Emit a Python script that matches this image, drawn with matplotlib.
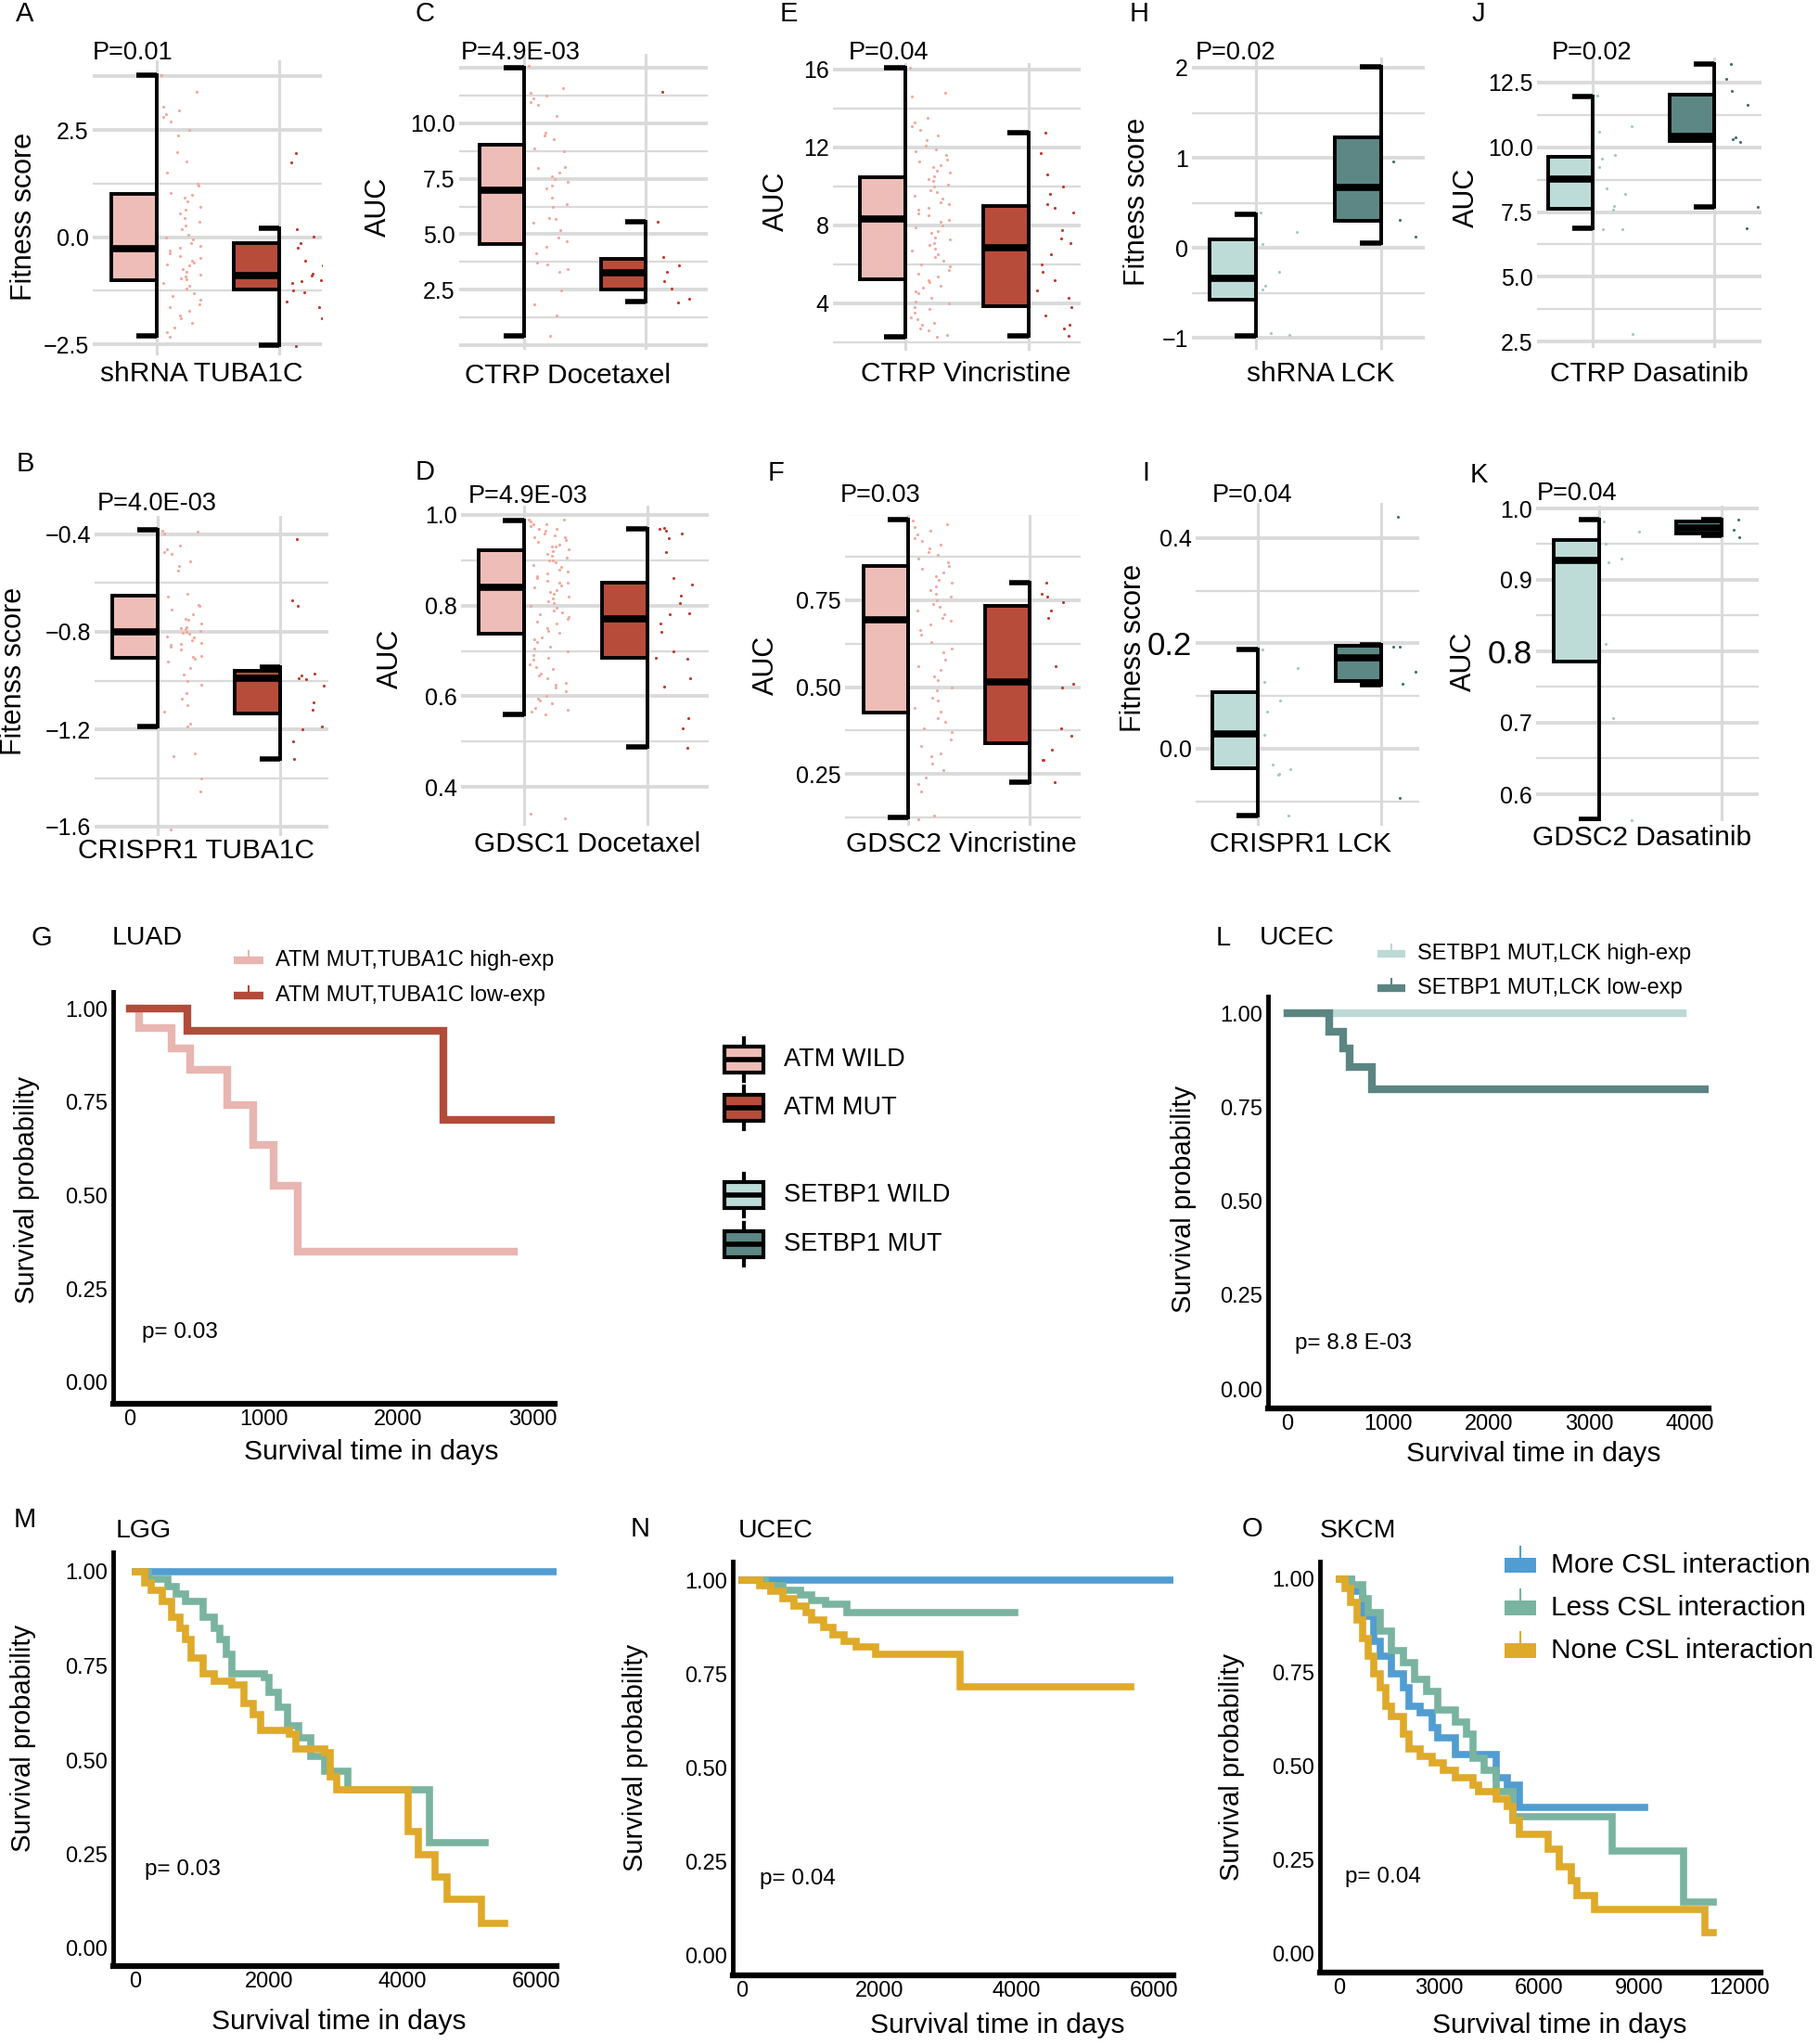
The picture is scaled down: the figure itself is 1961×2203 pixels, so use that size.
import numpy as np
import matplotlib
matplotlib.use('Agg')
import matplotlib.pyplot as plt
from matplotlib.patches import Rectangle

W, H = 1961, 2203
plt.rcParams['font.family'] = ['Liberation Sans', 'DejaVu Sans']

pink, red = '#efbdb8', '#b84c3b'
lteal, dteal = '#bedcd7', '#5d8784'
pink_pt, red_pt = '#f2a89c', '#c0392b'
lteal_pt, dteal_pt = '#9fcac3', '#3f6f6b'
grid_c = '#dadada'
blue, green, yellow = '#519dd1', '#79b4a0', '#dfaa2a'

# ---------------- box panel data: (lo, q1, med, q3, hi) per group
box_A = [(-2.31, -1.0, -0.26, 1.0, 3.78), (-2.53, -1.22, -0.9, -0.15, 0.2)]
box_C = [(0.42, 4.54, 7.0, 9.04, 12.5), (1.96, 2.5, 3.25, 3.9, 5.54)]
box_E = [(2.29, 5.24, 8.33, 10.48, 16.1), (2.33, 3.86, 6.86, 9.0, 12.76)]
box_H = [(-0.98, -0.58, -0.34, 0.09, 0.37), (0.05, 0.30, 0.67, 1.23, 2.01)]
box_J = [(6.86, 7.64, 8.79, 9.64, 11.96), (7.71, 10.25, 10.43, 12.04, 13.2)]
box_B = [(-1.19, -0.907, -0.80, -0.65, -0.38), (-1.32, -1.135, -0.99, -0.96, -0.945)]
box_D = [(0.56, 0.737, 0.84, 0.922, 0.988), (0.488, 0.684, 0.771, 0.851, 0.969)]
box_F = [(0.123, 0.427, 0.694, 0.849, 0.982), (0.226, 0.339, 0.516, 0.734, 0.80)]
box_I = [(-0.127, -0.037, 0.028, 0.108, 0.188), (0.122, 0.129, 0.172, 0.195, 0.197)]
box_K = [(0.565, 0.786, 0.927, 0.956, 0.984), (0.962, 0.965, 0.973, 0.982, 0.985)]

# jittered points (y values)
pts_A1 = [3.78, 3.39, 3.05, 2.95, 2.86, 2.8, 2.7, 2.5, 2.36, 1.97, 1.77, 1.51, 1.25, 1.2, 1.02, 0.99,
          0.92, 0.84, 0.71, 0.63, 0.56, 0.45, 0.35, 0.27, 0.18, 0.06, 0.0, -0.06, -0.13, -0.2, -0.24,
          -0.31, -0.38, -0.44, -0.49, -0.56, -0.6, -0.63, -0.67, -0.74, -0.81, -0.87, -0.92, -0.96,
          -0.99, -1.07, -1.14, -1.21, -1.31, -1.38, -1.46, -1.57, -1.64, -1.72, -1.82, -1.9, -2.0,
          -2.11, -2.22, -2.33]
pts_A2 = [1.96, 1.74, 0.19, 0.01, -0.13, -0.24, -0.56, -0.67, -0.85, -0.89, -1.0, -1.03, -1.07,
          -1.25, -1.28, -1.5, -1.64, -1.9, -2.55]
pts_C1 = [12.58, 11.61, 11.4, 11.26, 11.12, 10.98, 10.84, 10.35, 9.58, 9.44, 9.3, 8.88, 8.74, 8.04,
          7.97, 7.77, 7.63, 7.49, 7.35, 7.21, 7.07, 6.65, 6.37, 6.23, 5.74, 5.67, 5.53, 5.18, 4.83,
          4.69, 4.41, 4.13, 3.72, 3.65, 3.44, 3.3, 2.46, 1.83, 1.34, 0.4]
pts_C2 = [11.44, 5.56, 3.95, 3.6, 3.3, 2.88, 2.53, 2.1, 1.93]
pts_E1 = [16.1, 14.8, 14.6, 13.5, 13.3, 13.1, 12.9, 12.6, 12.4, 12.1, 11.9, 11.8, 11.6, 11.4, 11.3,
          11.1, 11.0, 10.8, 10.7, 10.5, 10.4, 10.3, 10.1, 10.0, 9.8, 9.7, 9.5, 9.4, 9.2, 9.1, 8.9,
          8.8, 8.6, 8.5, 8.3, 8.2, 8.0, 7.9, 7.7, 7.6, 7.4, 7.3, 7.1, 7.0, 6.8, 6.7, 6.5, 6.4, 6.2,
          6.0, 5.9, 5.7, 5.5, 5.4, 5.2, 5.1, 4.9, 4.8, 4.6, 4.5, 4.3, 4.1, 4.0, 3.8, 3.7, 3.5, 3.3,
          3.2, 3.0, 2.9, 2.7, 2.6, 2.4, 2.3]
pts_E2 = [12.75, 11.7, 10.6, 10.0, 9.6, 9.1, 8.9, 8.65, 7.75, 7.35, 7.1, 6.5, 6.0, 5.6, 5.2, 4.65,
          4.3, 3.8, 3.4, 2.9, 2.7, 2.35]
pts_H1 = [0.39, 0.18, 0.04, -0.27, -0.42, -0.46, -0.95, -0.97]
pts_H2 = [2.13, 0.96, 0.31, 0.12]
pts_J1 = [12.0, 10.8, 10.6, 9.7, 9.55, 9.25, 8.4, 8.2, 7.75, 7.6, 6.85, 6.83, 2.8]
pts_J2 = [13.2, 12.66, 12.18, 11.64, 10.38, 10.32, 10.2, 7.7, 6.88]
pts_B1 = [-0.383, -0.39, -0.396, -0.447, -0.46, -0.472, -0.479, -0.51, -0.53, -0.548, -0.644,
          -0.656, -0.69, -0.695, -0.707, -0.726, -0.745, -0.75, -0.764, -0.78, -0.783, -0.79, -0.796,
          -0.8, -0.803, -0.809, -0.82, -0.822, -0.834, -0.847, -0.85, -0.853, -0.86, -0.872, -0.898,
          -0.904, -0.91, -0.923, -0.949, -0.974, -1.0, -1.019, -1.05, -1.076, -1.1, -1.127, -1.177,
          -1.19, -1.30, -1.31, -1.4, -1.457, -1.61]
pts_B2 = [-0.42, -0.67, -0.695, -0.97, -0.98, -0.99, -0.995, -1.02, -1.09, -1.12, -1.19, -1.2,
          -1.25, -1.32]
pts_D1 = [0.99, 0.99, 0.985, 0.98, 0.98, 0.975, 0.97, 0.97, 0.965, 0.96, 0.955, 0.95, 0.95, 0.945,
          0.94, 0.935, 0.93, 0.93, 0.925, 0.92, 0.915, 0.91, 0.905, 0.9, 0.9, 0.895, 0.89, 0.885,
          0.88, 0.875, 0.87, 0.865, 0.86, 0.855, 0.85, 0.85, 0.845, 0.84, 0.835, 0.83, 0.825, 0.82,
          0.815, 0.81, 0.805, 0.8, 0.795, 0.79, 0.785, 0.78, 0.775, 0.77, 0.765, 0.76, 0.75, 0.745,
          0.74, 0.73, 0.725, 0.72, 0.71, 0.705, 0.7, 0.69, 0.685, 0.68, 0.67, 0.665, 0.66, 0.65,
          0.645, 0.64, 0.63, 0.625, 0.62, 0.61, 0.6, 0.595, 0.59, 0.585, 0.575, 0.57, 0.565, 0.56,
          0.34, 0.33]
pts_D2 = [0.971, 0.969, 0.965, 0.959, 0.949, 0.918, 0.86, 0.847, 0.821, 0.806, 0.782, 0.78, 0.761,
          0.741, 0.7, 0.684, 0.683, 0.639, 0.622, 0.552, 0.53, 0.487]
pts_F1 = [0.98, 0.97, 0.96, 0.95, 0.94, 0.93, 0.92, 0.91, 0.9, 0.89, 0.88, 0.87, 0.86, 0.85, 0.84,
          0.83, 0.82, 0.81, 0.8, 0.79, 0.78, 0.77, 0.76, 0.75, 0.74, 0.73, 0.72, 0.71, 0.7, 0.69,
          0.68, 0.665, 0.65, 0.63, 0.61, 0.6, 0.58, 0.56, 0.55, 0.53, 0.52, 0.5, 0.49, 0.47, 0.46,
          0.44, 0.43, 0.41, 0.4, 0.38, 0.37, 0.35, 0.33, 0.31, 0.3, 0.28, 0.26, 0.24, 0.22, 0.2,
          0.13, 0.12]
pts_F2 = [0.80, 0.77, 0.76, 0.745, 0.72, 0.70, 0.56, 0.51, 0.50, 0.38, 0.36, 0.32, 0.29, 0.29, 0.225]
pts_I1 = [0.188, 0.153, 0.126, 0.091, 0.071, 0.026, -0.03, -0.038, -0.047, -0.05, -0.126]
pts_I2 = [0.44, 0.194, 0.194, 0.147, 0.124, -0.094]
pts_K1 = [0.982, 0.967, 0.95, 0.93, 0.925, 0.81, 0.707, 0.563]
pts_K2 = [0.985, 0.97, 0.96]

# ---------------- survival data (time of step, survival after step)
g_high_t = [0, 66, 309, 450, 728, 918, 1068, 1249]
g_high_s = [1.0, 0.948, 0.894, 0.835, 0.742, 0.634, 0.526, 0.349]
g_low_t = [0, 432, 2338]
g_low_s = [1.0, 0.940, 0.702]
l_high_t = [0]
l_high_s = [1.0]
l_low_t = [0, 412, 554, 621, 836]
l_low_s = [1.0, 0.951, 0.907, 0.858, 0.797]
m_more_t = [0]
m_more_s = [1.0]
m_less_t = [0, 190, 480, 610, 750, 1010, 1180, 1270, 1360, 1440, 1930, 2000, 2140, 2280, 2450,
            2630, 2830, 3180, 4400]
m_less_s = [1.0, 0.98, 0.96, 0.94, 0.92, 0.88, 0.85, 0.82, 0.78, 0.73, 0.72, 0.68, 0.64, 0.59,
            0.56, 0.51, 0.47, 0.42, 0.28]
m_none_t = [0, 140, 230, 400, 540, 660, 750, 835, 1010, 1180, 1440, 1620, 1760, 1880, 2310, 2400,
            2840, 2920, 3010, 4090, 4230, 4490, 4660, 5180]
m_none_s = [1.0, 0.97, 0.95, 0.92, 0.88, 0.85, 0.82, 0.77, 0.73, 0.71, 0.70, 0.65, 0.62, 0.58,
            0.57, 0.53, 0.52, 0.455, 0.42, 0.31, 0.25, 0.19, 0.13, 0.066]
n_more_t = [0]
n_more_s = [1.0]
n_less_t = [0, 338, 592, 845, 1014, 1217, 1521]
n_less_s = [1.0, 0.984, 0.974, 0.96, 0.946, 0.936, 0.913]
n_none_t = [0, 254, 423, 592, 761, 930, 1014, 1183, 1318, 1487, 1656, 1944, 3177]
n_none_s = [1.0, 0.984, 0.97, 0.95, 0.93, 0.913, 0.893, 0.875, 0.855, 0.836, 0.822, 0.803, 0.715]
o_more_t = [0, 350, 700, 1040, 1220, 1570, 1910, 2090, 2430, 2780, 2960, 3480, 4700, 5040, 5390]
o_more_s = [1.0, 0.967, 0.90, 0.833, 0.795, 0.747, 0.709, 0.661, 0.642, 0.604, 0.575, 0.53, 0.47,
            0.45, 0.39]
o_less_t = [0, 348, 696, 870, 1217, 1565, 1913, 2261, 2609, 2956, 3478, 3826, 4000, 4348, 4695,
            5217, 8174, 10330]
o_less_s = [1.0, 0.986, 0.947, 0.91, 0.86, 0.81, 0.776, 0.733, 0.70, 0.651, 0.618, 0.585, 0.522,
            0.489, 0.432, 0.365, 0.274, 0.136]
o_none_t = [0, 174, 348, 522, 696, 870, 1043, 1217, 1391, 1565, 1913, 2087, 2435, 2782, 3130,
            3478, 4000, 4174, 4695, 5043, 5217, 5391, 6261, 6609, 6956, 7130, 7652, 10956]
o_none_s = [1.0, 0.976, 0.938, 0.89, 0.842, 0.795, 0.747, 0.709, 0.661, 0.632, 0.585, 0.546,
            0.527, 0.508, 0.489, 0.47, 0.45, 0.432, 0.413, 0.393, 0.355, 0.317, 0.279, 0.231, 0.193,
            0.155, 0.117, 0.054]

fig = plt.figure(figsize=(W / 100, H / 100), dpi=100)
ov = fig.add_axes([0, 0, 1, 1], zorder=10)
ov.set_xlim(0, W)
ov.set_ylim(H, 0)
ov.axis('off')
ov.patch.set_alpha(0)


def txt(x, y, s, size, ha='left', va='center', rot=0):
    ov.text(x, y, s, fontsize=size, ha=ha, va=va, rotation=rot, color='black')


def box_panel(lay, stats, pts, fills, dots, major, minor, ticks, labels, big=None):
    x0, x1, c1, c2, yt, yb, (v1, p1), (v2, p2) = lay
    ax = fig.add_axes([x0 / W, 1 - yb / H, (x1 - x0) / W, (yb - yt) / H])
    sp = c2 - c1
    ax.set_xlim(1 - (c1 - x0) / sp, 2 + (x1 - c2) / sp)
    k = (v1 - v2) / (p2 - p1)
    ax.set_ylim(v1 + (p1 - yb) * k, v1 + (p1 - yt) * k)
    for v in major:
        ax.axhline(v, color=grid_c, lw=2.8, zorder=0)
    for v in minor:
        ax.axhline(v, color=grid_c, lw=1.6, zorder=0)
    for c in (1, 2):
        ax.axvline(c, color=grid_c, lw=2.2, zorder=0)
    bw, cw = 0.37, 0.17
    for i, (lo, q1, med, q3, hi) in enumerate(stats):
        c = i + 1
        ax.add_patch(Rectangle((c - bw, q1), bw, q3 - q1, facecolor=fills[i],
                               edgecolor='black', lw=2.8, zorder=3))
        ax.plot([c - bw, c], [med, med], color='black', lw=5.5, zorder=4, solid_capstyle='butt')
        ax.plot([c, c], [lo, hi], color='black', lw=2.8, zorder=4)
        for v in (lo, hi):
            ax.plot([c - cw, c], [v, v], color='black', lw=4, zorder=4, solid_capstyle='butt')
        yv = np.array(pts[i])
        n = np.arange(len(yv))
        offs = 0.04 + 0.32 * ((n * 0.754877 + n * n * 0.1309 + 0.3 * i) % 1)
        ax.scatter(c + offs, yv, s=5, color=dots[i], linewidths=0, zorder=2)
    ax.set_yticks(ticks)
    ax.set_yticklabels(labels)
    ax.set_xticks([])
    ax.tick_params(axis='y', length=0, pad=3, labelsize=18)
    if big is not None:
        ax.get_yticklabels()[big].set_fontsize(25)
    for s in ax.spines.values():
        s.set_visible(False)
    ax.patch.set_alpha(0)
    return ax


def surv_panel(lay, curves, xt, xtl):
    x0, x1, yt, yb, (xv1, xp1), (xv2, xp2), (yv1, yp1), (yv2, yp2) = lay
    ax = fig.add_axes([x0 / W, 1 - yb / H, (x1 - x0) / W, (yb - yt) / H])
    kx = (xv2 - xv1) / (xp2 - xp1)
    xmax = xv1 + (x1 - xp1) * kx
    ax.set_xlim(xv1 + (x0 - xp1) * kx, xmax)
    ky = (yv1 - yv2) / (yp2 - yp1)
    ax.set_ylim(yv1 + (yp1 - yb) * ky, yv1 + (yp1 - yt) * ky)
    for t, s, end, col, lw in curves:
        if end is None:
            end = xmax * 1.05
        ax.step(list(t) + [end], list(s) + [s[-1]], where='post', color=col, lw=lw,
                solid_joinstyle='miter')
    ax.set_yticks([0, 0.25, 0.5, 0.75, 1.0])
    ax.set_yticklabels(['0.00', '0.25', '0.50', '0.75', '1.00'])
    ax.set_xticks(xt)
    ax.set_xticklabels(xtl)
    ax.tick_params(length=0, labelsize=17, pad=4)
    ax.spines['top'].set_visible(False)
    ax.spines['right'].set_visible(False)
    ax.spines['left'].set_linewidth(3.5)
    ax.spines['bottom'].set_linewidth(4.5)
    ax.patch.set_alpha(0)
    return ax


# ---------------- box panels
red_pair, teal_pair = (pink, red), (lteal, dteal)
red_dots, teal_dots = (pink_pt, red_pt), (lteal_pt, dteal_pt)

box_panel((100, 347, 169, 301, 65, 383, (2.5, 140), (-2.5, 371)), box_A, (pts_A1, pts_A2),
          red_pair, red_dots, [-2.5, 0, 2.5, 3.75], [-1.25, 1.25], [-2.5, 0, 2.5],
          ['\u22122.5', '0.0', '2.5'])
box_panel((495, 763, 565, 696, 58, 377, (10.0, 133), (2.5, 312)), box_C, (pts_C1, pts_C2),
          red_pair, red_dots, [0, 2.5, 5, 7.5, 10, 12.5], [1.25, 3.75, 6.25, 8.75, 11.25],
          [2.5, 5, 7.5, 10], ['2.5', '5.0', '7.5', '10.0'])
box_panel((898, 1165, 976, 1109, 68, 378, (16, 75), (4, 327)), box_E, (pts_E1, pts_E2),
          red_pair, red_dots, [4, 8, 12, 16], [2, 6, 10, 14], [4, 8, 12, 16],
          ['4', '8', '12', '16'])
box_panel((1285, 1536, 1354, 1489, 62, 377, (2, 73), (-1, 364)), box_H, (pts_H1, pts_H2),
          teal_pair, teal_dots, [-1, 0, 1, 2], [-0.5, 0.5, 1.5], [-1, 0, 1, 2],
          ['\u22121', '0', '1', '2'])
box_panel((1657, 1899, 1717, 1848, 62, 375, (12.5, 89), (2.5, 368)), box_J, (pts_J1, pts_J2),
          teal_pair, teal_dots, [2.5, 5, 7.5, 10, 12.5], [3.75, 6.25, 8.75, 11.25],
          [2.5, 5, 7.5, 10, 12.5], ['2.5', '5.0', '7.5', '10.0', '12.5'])
box_panel((102, 354, 170, 302, 556, 901, (-0.4, 576), (-1.6, 891)), box_B, (pts_B1, pts_B2),
          red_pair, red_dots, [-1.6, -1.2, -0.8, -0.4], [-1.4, -1.0, -0.6],
          [-1.6, -1.2, -0.8, -0.4], ['\u22121.6', '\u22121.2', '\u22120.8', '\u22120.4'])
box_panel((497, 764, 565, 698, 545, 890, (1.0, 555), (0.4, 848)), box_D, (pts_D1, pts_D2),
          red_pair, red_dots, [0.4, 0.6, 0.8, 1.0], [0.5, 0.7, 0.9], [0.4, 0.6, 0.8, 1.0],
          ['0.4', '0.6', '0.8', '1.0'])
box_panel((911, 1165, 979, 1110, 555, 890, (0.75, 647), (0.25, 834)), box_F, (pts_F1, pts_F2),
          red_pair, red_dots, [0.25, 0.5, 0.75], [0.125, 0.375, 0.625, 0.875, 1.0],
          [0.25, 0.5, 0.75], ['0.25', '0.50', '0.75'])
box_panel((1289, 1530, 1356, 1489, 542, 890, (0.4, 580), (0.0, 807)), box_I, (pts_I1, pts_I2),
          teal_pair, teal_dots, [0.0, 0.2, 0.4], [-0.1, 0.1, 0.3], [0.0, 0.2, 0.4],
          ['0.0', '0.2', '0.4'], big=1)
box_panel((1656, 1896, 1724, 1856, 545, 885, (1.0, 548), (0.6, 856)), box_K, (pts_K1, pts_K2),
          teal_pair, teal_dots, [0.6, 0.7, 0.8, 0.9, 1.0], [0.65, 0.75, 0.85, 0.95],
          [0.6, 0.7, 0.8, 0.9, 1.0], ['0.6', '0.7', '0.8', '0.9', '1.0'], big=2)

box_text = [
    ('A', 27, 15, 'P=0.01', 100, 57, 'Fitness score', 26, 233, 'shRNA TUBA1C', 217, 403),
    ('C', 458, 15, 'P=4.9E-03', 497, 57, 'AUC', 408, 223, 'CTRP Docetaxel', 612, 405),
    ('E', 850, 15, 'P=0.04', 915, 57, 'AUC', 837, 217, 'CTRP Vincristine', 1041, 403),
    ('H', 1228, 15, 'P=0.02', 1289, 57, 'Fitness score', 1226, 217, 'shRNA LCK', 1424, 403),
    ('J', 1594, 15, 'P=0.02', 1673, 57, 'AUC', 1581, 213, 'CTRP Dasatinib', 1778, 403),
    ('B', 27, 500, 'P=4.0E-03', 105, 543, 'Fitenss score', 15, 723, 'CRISPR1 TUBA1C', 212, 917),
    ('D', 458, 509, 'P=4.9E-03', 505, 535, 'AUC', 421, 710, 'GDSC1 Docetaxel', 633, 910),
    ('F', 837, 510, 'P=0.03', 906, 534, 'AUC', 826, 717, 'GDSC2 Vincristine', 1036, 910),
    ('I', 1235, 510, 'P=0.04', 1307, 534, 'Fitness score', 1222, 698, 'CRISPR1 LCK', 1402, 910),
    ('K', 1594, 512, 'P=0.04', 1657, 532, 'AUC', 1578, 713, 'GDSC2 Dasatinib', 1770, 903),
]
for let, lx, ly, p, px, py, yl, yx, yy, xl, xx, xy in box_text:
    txt(lx, ly, let, 21, ha='center')
    txt(px, py, p, 19.5)
    txt(yx, yy, yl, 22, ha='center', rot=90)
    txt(xx, xy, xl, 21.5, ha='center')

# ---------------- survival panels
surv_panel((122, 598, 1069, 1513, (0, 140), (3000, 574), (1.0, 1087), (0.0, 1490)),
           [(g_high_t, g_high_s, 2859, '#e9b5b0', 6), (g_low_t, g_low_s, None, '#b24b3a', 6)],
           [0, 1000, 2000, 3000], ['0', '1000', '2000', '3000'])
surv_panel((1367, 1842, 1074, 1518, (0, 1388), (4000, 1822), (1.0, 1092), (0.0, 1497)),
           [(l_high_t, l_high_s, 3930, '#bcd9d6', 6), (l_low_t, l_low_s, None, '#5b8582', 6)],
           [0, 1000, 2000, 3000, 4000], ['0', '1000', '2000', '3000', '4000'])
surv_panel((122, 600, 1673, 2119, (0, 146), (6000, 578), (1.0, 1694), (0.0, 2100)),
           [(m_more_t, m_more_s, None, blue, 5.5), (m_less_t, m_less_s, 5240, green, 5.5),
            (m_none_t, m_none_s, 5530, yellow, 5.5)],
           [0, 2000, 4000, 6000], ['0', '2000', '4000', '6000'])
surv_panel((790, 1265, 1683, 2129, (0, 800), (6000, 1244), (1.0, 1703), (0.0, 2108)),
           [(n_more_t, n_more_s, None, blue, 5.5), (n_less_t, n_less_s, 3972, green, 5.5),
            (n_none_t, n_none_s, 5662, yellow, 5.5)],
           [0, 2000, 4000, 6000], ['0', '2000', '4000', '6000'])
surv_panel((1423, 1898, 1683, 2126, (0, 1444), (12000, 1875), (1.0, 1702), (0.0, 2105)),
           [(o_more_t, o_more_s, 9150, blue, 5.5), (o_less_t, o_less_s, 11234, green, 5.5),
            (o_none_t, o_none_s, 11234, yellow, 5.5)],
           [0, 3000, 6000, 9000, 12000], ['0', '3000', '6000', '9000', '12000'])

surv_text = [
    ('G', 45, 1011, 'LUAD', 121, 1011, 'p= 0.03', 153, 1436, 400, 1565, 29, 1282),
    ('L', 1319, 1011, 'UCEC', 1358, 1011, 'p= 8.8 E-03', 1396, 1448, 1653, 1567, 1276, 1292),
    ('M', 27, 1638, 'LGG', 125, 1650, 'p= 0.03', 156, 2015, 365, 2179, 25, 1873),
    ('N', 690, 1648, 'UCEC', 796, 1650, 'p= 0.04', 819, 2025, 1075, 2183, 685, 1894),
    ('O', 1350, 1648, 'SKCM', 1423, 1650, 'p= 0.04', 1450, 2023, 1681, 2183, 1328, 1904),
]
for let, lx, ly, t, tx, ty, p, px, py, xx, xy, yx, yy in surv_text:
    txt(lx, ly, let, 21, ha='center')
    txt(tx, ty, t, 20.5)
    txt(px, py, p, 17.5)
    txt(xx, xy, 'Survival time in days', 21.5, ha='center')
    txt(yx, yy, 'Survival probability', 21, ha='center', rot=90)

# line legends for G and L
for x0, x1, y, col, lab in [(252, 284, 1035, '#e9b5b0', 'ATM MUT,TUBA1C high-exp'),
                            (252, 284, 1073, '#b24b3a', 'ATM MUT,TUBA1C low-exp'),
                            (1485, 1515, 1028, '#bcd9d6', 'SETBP1 MUT,LCK high-exp'),
                            (1485, 1515, 1065, '#5b8582', 'SETBP1 MUT,LCK low-exp')]:
    ov.plot([x0, x1], [y, y], color=col, lw=6, solid_capstyle='butt')
    ov.plot([(x0 + x1) / 2] * 2, [y - 10, y], color=col, lw=1.5)
    txt(x1 + 13, y, lab, 17)

# box-key legend in the middle
for y, col, lab in [(1142, pink, 'ATM WILD'), (1194, red, 'ATM MUT'),
                    (1288, lteal, 'SETBP1 WILD'), (1341, dteal, 'SETBP1 MUT')]:
    ov.plot([802, 802], [y - 23, y + 23], color='black', lw=3, zorder=1)
    ov.add_patch(Rectangle((781, y - 14), 42, 28, facecolor=col, edgecolor='black', lw=3, zorder=2))
    ov.plot([781, 823], [y, y], color='black', lw=4, zorder=3, solid_capstyle='butt')
    txt(845, y, lab, 19.5)

# legend for O
for y, col, lab in [(1687, blue, 'More CSL interaction'), (1733, green, 'Less CSL interaction'),
                    (1779, yellow, 'None CSL interaction')]:
    ov.add_patch(Rectangle((1622, y - 8), 34, 16, facecolor=col, edgecolor='none'))
    ov.plot([1639, 1639], [y - 20, y - 8], color=col, lw=1.5)
    txt(1672, y, lab, 21.5)

fig.savefig('out.png', dpi=100)
